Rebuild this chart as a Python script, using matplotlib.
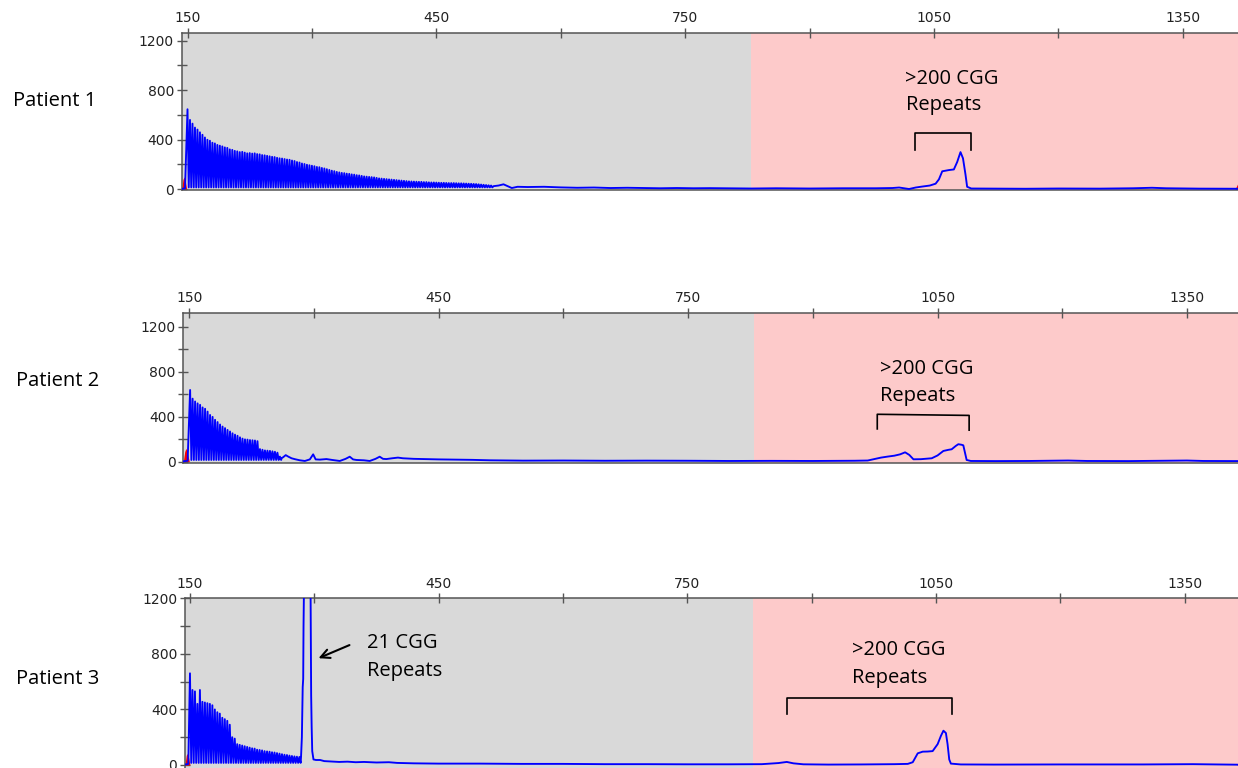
import matplotlib
matplotlib.use('Agg')
import matplotlib.pyplot as plt

# ---------------- data ----------------
patients = ['Patient 1', 'Patient 2', 'Patient 3']
x_major = [150, 450, 750, 1050, 1350]
x_minor = [300, 600, 900, 1200]
y_major = [0, 400, 800, 1200]
y_minor = [200, 600, 1000]
normal_limit = 829          # end of grey (normal) size zone
cgg_step = 3                # one CGG repeat = 3 bp

# Patient 1
p1_lead_x = [143, 147]
p1_lead_y = [3, 8]
p1_ladder_start = 150
p1_ladder_floor = 15
p1_ladder_peaks = [646, 560, 530, 498, 482, 460, 440, 418, 400, 392, 376, 370, 358, 352, 346, 338,
                   334, 322, 318, 310, 306, 300, 302, 296, 290, 292, 288, 290, 284, 282, 276, 274,
                   270, 266, 262, 260, 254, 250, 248, 244, 240, 238, 232, 228, 220, 216, 208, 204,
                   198, 194, 190, 186, 180, 178, 172, 168, 162, 156, 150, 146, 140, 136, 132, 130,
                   126, 124, 120, 118, 114, 112, 108, 104, 102, 100, 98, 96, 92, 88, 86, 84, 82,
                   80, 78, 76, 74, 72, 70, 68, 66, 64, 63, 62, 61, 60, 60, 58, 58, 56, 55, 55, 54,
                   53, 52, 52, 51, 50, 50, 50, 49, 48, 48, 47, 46, 45, 44, 43, 42, 40, 38, 36, 34,
                   32, 30]
p1_tail_x = [519, 525, 531, 536, 541, 548, 560, 580, 600, 620, 640, 660, 680, 700, 720, 740, 760,
             780, 800, 830, 860, 900, 940, 980, 1000, 1008, 1014, 1020, 1028, 1035, 1045, 1052,
             1056, 1060, 1068, 1074, 1078, 1082, 1085, 1088, 1090, 1095, 1120, 1160, 1200, 1250,
             1290, 1313, 1330, 1370, 1419]
p1_tail_y = [25, 30, 40, 25, 10, 20, 18, 20, 15, 12, 14, 10, 12, 10, 8, 10, 8, 9, 8, 6, 8, 6, 8,
             8, 10, 14, 8, 2, 14, 21, 30, 45, 80, 145, 155, 160, 220, 300, 250, 120, 20, 6, 5, 4,
             6, 5, 8, 12, 8, 5, 4]
p1_red_left_x = [143, 144.5, 146, 147.5, 149]
p1_red_left_y = [0, 80, 100, 60, 0]
p1_red_right_x = [1413, 1418, 1422, 1426, 1431]
p1_red_right_y = [0, 70, 110, 60, 0]

# Patient 2
p2_lead_x = [143, 148]
p2_lead_y = [3, 8]
p2_ladder_start = 151
p2_ladder_floor = 15
p2_ladder_peaks = [637, 560, 535, 518, 505, 482, 470, 445, 415, 398, 372, 352, 330, 312, 298, 282,
                   268, 252, 240, 230, 216, 205, 198, 196, 192, 190, 188, 182, 112, 106, 100, 98,
                   96, 92, 88, 80, 45]
p2_tail_x = [261, 263, 266, 269, 273, 277, 283, 289, 295, 299, 302, 307, 315, 322, 331, 338, 343,
             347, 351, 360, 367, 374, 379, 383, 387, 394, 401, 407, 420, 431, 450, 472, 490, 512,
             552, 600, 650, 700, 750, 800, 850, 900, 950, 966, 975, 982, 990, 998, 1005, 1011,
             1016, 1021, 1030, 1043, 1050, 1057, 1063, 1067, 1072, 1075, 1079, 1081, 1083, 1085,
             1090, 1120, 1160, 1207, 1230, 1280, 1330, 1350, 1370, 1414]
p2_tail_y = [30, 40, 58, 45, 30, 22, 12, 6, 20, 65, 20, 18, 23, 15, 6, 25, 44, 20, 15, 12, 6, 25,
             44, 25, 23, 30, 36, 30, 25, 23, 20, 18, 16, 12, 9, 10, 8, 9, 8, 6, 7, 6, 8, 10, 25,
             36, 45, 53, 65, 83, 60, 21, 22, 30, 55, 95, 105, 110, 140, 155, 150, 145, 80, 15, 6,
             5, 6, 10, 6, 5, 8, 10, 6, 5]
p2_red_left_x = [142.8, 144.5, 146, 148, 150]
p2_red_left_y = [0, 90, 119, 70, 0]
p2_red_right_x = [1412, 1417, 1421, 1425, 1430]
p2_red_right_y = [0, 60, 110, 60, 0]

# Patient 3
p3_lead_x = [144, 148]
p3_lead_y = [3, 8]
p3_ladder_start = 150
p3_ladder_floor = 15
p3_ladder_peaks = [660, 540, 530, 440, 540, 455, 450, 445, 440, 430, 400, 380, 370, 340, 330, 318,
                   290, 200, 190, 150, 145, 140, 135, 130, 125, 120, 118, 110, 108, 105, 100, 98,
                   96, 92, 90, 86, 82, 78, 74, 72, 68, 65, 62, 60, 58]
p3_tail_x = [284, 285, 286, 286.6, 287, 288, 291, 294, 295.5, 296.2, 296.8, 297.5, 299, 302, 307,
             312, 320, 330, 340, 350, 360, 375, 390, 400, 420, 450, 500, 550, 600, 650, 700, 750,
             800, 840, 860, 870, 878, 890, 920, 960, 1000, 1016, 1022, 1028, 1034, 1040, 1046,
             1052, 1056, 1059, 1062, 1064, 1066, 1068, 1080, 1120, 1200, 1300, 1360, 1400, 1417]
p3_tail_y = [60, 200, 560, 620, 1000, 1500, 1800, 1500, 1250, 500, 276, 100, 40, 36, 36, 28, 25,
             22, 24, 20, 22, 18, 20, 15, 12, 10, 10, 8, 8, 6, 6, 5, 5, 6, 14, 22, 12, 5, 3, 4, 6,
             8, 20, 84, 96, 97, 100, 150, 210, 247, 230, 150, 40, 10, 4, 3, 4, 4, 6, 3, 2]
p3_red_left_x = [144, 145.5, 147, 148.5, 150]
p3_red_left_y = [0, 70, 84, 50, 0]
p3_red_right_x = [1413, 1418, 1422, 1426, 1431]
p3_red_right_y = [0, 60, 100, 55, 0]

# annotations
expansion_label = '>200 CGG'
repeat_word = 'Repeats'
normal_label = '21 CGG'
p1_bracket_x = [1027, 1027, 1095, 1095]
p1_bracket_y = [317, 457, 457, 317]
p2_bracket_x = [977.5, 977.5, 1088, 1088]
p2_bracket_y = [291, 421, 411, 280]
p3_bracket_x = [870, 870, 1069, 1069]
p3_bracket_y = [367, 480, 480, 367]
p3_arrow_head = (302, 761)
p3_arrow_tail = (345.5, 871)

# ---------------- drawing ----------------
W, H = 1238, 768
fig = plt.figure(figsize=(W / 100, H / 100), dpi=100)
fig.patch.set_facecolor('white')


def fx(px):
    return px / W


def fy(py):
    return 1 - py / H


def ladder_trace(lead_x, lead_y, start, peaks, floor, tail_x, tail_y):
    xs = list(lead_x)
    ys = list(lead_y)
    for i, h in enumerate(peaks):
        x0 = start + cgg_step * i
        xs += [x0, x0 + cgg_step / 2]
        ys += [h, floor]
    xs += list(tail_x)
    ys += list(tail_y)
    return xs, ys


panels = [
    dict(label=patients[0], box=(181.7, 33, 1240, 190), xlim=(143, 1419), ylim=(-6, 1262),
         trace=ladder_trace(p1_lead_x, p1_lead_y, p1_ladder_start, p1_ladder_peaks,
                            p1_ladder_floor, p1_tail_x, p1_tail_y),
         reds=[(p1_red_left_x, p1_red_left_y), (p1_red_right_x, p1_red_right_y)],
         bracket=(p1_bracket_x, p1_bracket_y),
         text_xy=(905, 83.5, 110), label_xy=(12.7, 106.5)),
    dict(label=patients[1], box=(183.3, 312.7, 1240, 463), xlim=(142.8, 1413.8), ylim=(-12, 1324),
         trace=ladder_trace(p2_lead_x, p2_lead_y, p2_ladder_start, p2_ladder_peaks,
                            p2_ladder_floor, p2_tail_x, p2_tail_y),
         reds=[(p2_red_left_x, p2_red_left_y), (p2_red_right_x, p2_red_right_y)],
         bracket=(p2_bracket_x, p2_bracket_y),
         text_xy=(880, 373.5, 401), label_xy=(16, 386.5)),
    dict(label=patients[2], box=(185, 598.3, 1240, 775), xlim=(144, 1416.8), ylim=(-72, 1200),
         trace=ladder_trace(p3_lead_x, p3_lead_y, p3_ladder_start, p3_ladder_peaks,
                            p3_ladder_floor, p3_tail_x, p3_tail_y),
         reds=[(p3_red_left_x, p3_red_left_y), (p3_red_right_x, p3_red_right_y)],
         bracket=(p3_bracket_x, p3_bracket_y),
         text_xy=(852, 655, 682.7), label_xy=(16, 684.5)),
]

ann_font = dict(family='Open Sans', size=14.5, color='black')
spine_col = '#555555'

axes = []
for p in panels:
    l, t, r, b = p['box']
    ax = fig.add_axes([fx(l), fy(b), (r - l) / W, (b - t) / H])
    axes.append(ax)
    ax.set_xlim(*p['xlim'])
    ax.set_ylim(*p['ylim'])
    ax.set_facecolor('none')
    ax.axvspan(p['xlim'][0], normal_limit, color='#d9d9d9', zorder=0, lw=0)
    ax.axvspan(normal_limit, p['xlim'][1] + 20, color='#fdcaca', zorder=0, lw=0)

    for rx, ry in p['reds']:
        ax.fill_between(rx, ry, 0, color='#ff0000', lw=0, zorder=2)
    tx, ty = p['trace']
    ax.plot(tx, ty, color='#0000ff', lw=1.35, zorder=3)

    ax.xaxis.tick_top()
    ax.set_xticks(x_major)
    ax.set_xticks(x_minor, minor=True)
    ax.set_yticks(y_major)
    ax.set_yticks(y_minor, minor=True)
    ax.tick_params(axis='x', which='both', direction='inout', length=7, width=1,
                   color=spine_col, labelcolor='#222222', labelsize=10, pad=2,
                   top=True, bottom=False, labeltop=True, labelbottom=False)
    ax.tick_params(axis='y', which='both', direction='inout', length=7, width=1,
                   color=spine_col, labelcolor='#222222', labelsize=10, pad=2)
    for s in ['top', 'left', 'bottom']:
        ax.spines[s].set_color(spine_col)
        ax.spines[s].set_linewidth(1.1)
    ax.spines['right'].set_visible(False)
    for lab in ax.get_xticklabels() + ax.get_yticklabels():
        lab.set_family('DejaVu Sans')

    bx, by = p['bracket']
    ax.plot(bx, by, color='black', lw=1.2, clip_on=False, zorder=5)

    tx0, base1, base2 = p['text_xy']
    fig.text(fx(tx0), fy(base1), expansion_label, va='baseline', ha='left', fontdict=ann_font)
    fig.text(fx(tx0 + 0.5), fy(base2), repeat_word, va='baseline', ha='left', fontdict=ann_font)

    lx, ly = p['label_xy']
    fig.text(fx(lx), fy(ly), p['label'], va='baseline', ha='left', fontdict=ann_font)

# 21 CGG annotation on patient 3
ax3 = axes[2]
ax3.annotate('', xy=p3_arrow_head, xytext=p3_arrow_tail,
             arrowprops=dict(arrowstyle='->', color='black', lw=1.5, mutation_scale=16),
             annotation_clip=False, zorder=6)
fig.text(fx(366.7), fy(648.3), normal_label, va='baseline', ha='left', fontdict=ann_font)
fig.text(fx(367), fy(676), repeat_word, va='baseline', ha='left', fontdict=ann_font)

fig.savefig('out.png', dpi=100, facecolor='white')
